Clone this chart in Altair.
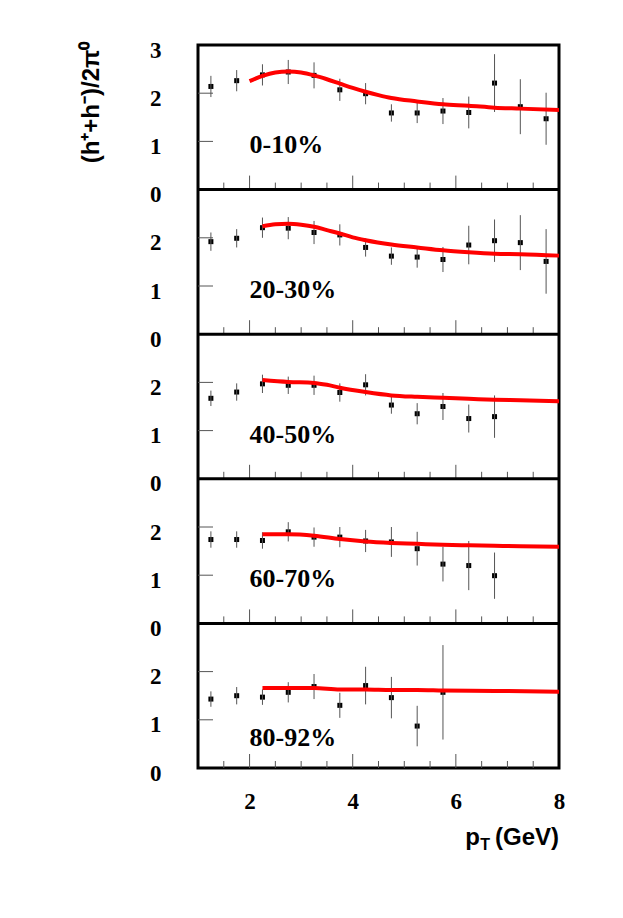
import altair as alt
import pandas as pd

# ---------------- data ----------------
PT = [1.25, 1.75, 2.25, 2.75, 3.25, 3.75, 4.25, 4.75, 5.25, 5.75, 6.25, 6.75, 7.25, 7.75]
LABELS = ["0-10%", "20-30%", "40-50%", "60-70%", "80-92%"]

VAL_0_10 = [2.14, 2.26, 2.38, 2.44, 2.37, 2.07, 1.99, 1.59, 1.59, 1.63, 1.60, 2.21, 1.72, 1.47]
ERR_0_10 = [0.22, 0.22, 0.22, 0.25, 0.27, 0.23, 0.22, 0.18, 0.21, 0.27, 0.33, 0.60, 0.57, 0.54]

VAL_20_30 = [1.92, 1.99, 2.21, 2.20, 2.11, 2.06, 1.80, 1.62, 1.60, 1.55, 1.85, 1.94, 1.90, 1.51]
ERR_20_30 = [0.19, 0.19, 0.21, 0.23, 0.24, 0.22, 0.19, 0.18, 0.22, 0.26, 0.40, 0.44, 0.57, 0.67]

VAL_40_50 = [1.67, 1.80, 1.97, 1.94, 1.94, 1.79, 1.95, 1.53, 1.35, 1.50, 1.25, 1.29]
ERR_40_50 = [0.16, 0.18, 0.19, 0.18, 0.20, 0.19, 0.22, 0.18, 0.22, 0.28, 0.29, 0.44]

VAL_60_70 = [1.74, 1.74, 1.72, 1.90, 1.79, 1.79, 1.71, 1.69, 1.55, 1.23, 1.20, 0.99]
ERR_60_70 = [0.17, 0.17, 0.17, 0.20, 0.20, 0.21, 0.23, 0.31, 0.35, 0.36, 0.51, 0.48]

VAL_80_92 = [1.43, 1.50, 1.47, 1.57, 1.69, 1.30, 1.71, 1.46, 0.87, 1.57]
ERR_80_92 = [0.16, 0.18, 0.16, 0.21, 0.26, 0.26, 0.39, 0.43, 0.42, 0.98]

CX_0_10 = [2.0, 2.25, 2.5, 2.75, 3.0, 3.25, 3.5, 3.75, 4.0, 4.25, 4.5, 4.75, 5.25, 5.75, 6.25, 6.75, 7.25, 8.0]
CY_0_10 = [2.25, 2.36, 2.43, 2.45, 2.43, 2.37, 2.29, 2.20, 2.11, 2.03, 1.96, 1.90, 1.83, 1.77, 1.74, 1.70, 1.68, 1.65]

CX_20_30 = [2.25, 2.5, 2.75, 3.0, 3.25, 3.5, 3.75, 4.0, 4.25, 4.75, 5.25, 5.75, 6.25, 6.75, 7.25, 8.0]
CY_20_30 = [2.24, 2.28, 2.29, 2.27, 2.23, 2.16, 2.09, 2.01, 1.95, 1.86, 1.80, 1.74, 1.70, 1.67, 1.66, 1.63]

CX_40_50 = [2.25, 2.75, 3.25, 3.5, 3.75, 4.25, 4.75, 5.25, 5.75, 6.25, 6.75, 7.25, 8.0]
CY_40_50 = [2.05, 2.01, 1.99, 1.95, 1.89, 1.80, 1.73, 1.70, 1.68, 1.66, 1.64, 1.63, 1.61]

CX_60_70 = [2.25, 2.75, 3.25, 3.75, 4.25, 4.75, 5.25, 5.75, 6.25, 6.75, 7.25, 8.0]
CY_60_70 = [1.85, 1.85, 1.82, 1.75, 1.70, 1.67, 1.65, 1.63, 1.62, 1.61, 1.60, 1.59]

CX_80_92 = [2.25, 3.25, 3.75, 4.25, 4.75, 5.25, 5.75, 6.75, 8.0]
CY_80_92 = [1.66, 1.66, 1.63, 1.63, 1.62, 1.62, 1.61, 1.60, 1.58]

X_TICKS = [2, 4, 6, 8]
X_MINOR = [1.5, 2.5, 3, 3.5, 4.5, 5, 5.5, 6.5, 7, 7.5]
X_MAJOR_IN = [2, 4, 6]
Y_TICKS_IN = [1, 2]

# ---------------- assemble tables ----------------
OFFSETS = [12, 9, 6, 3, 0]   # stacked panels, each spans 3 units
LABEL_Y = [0.75, 0.75, 0.75, 0.75, 0.46]
vals = [VAL_0_10, VAL_20_30, VAL_40_50, VAL_60_70, VAL_80_92]
errs = [ERR_0_10, ERR_20_30, ERR_40_50, ERR_60_70, ERR_80_92]
cxs = [CX_0_10, CX_20_30, CX_40_50, CX_60_70, CX_80_92]
cys = [CY_0_10, CY_20_30, CY_40_50, CY_60_70, CY_80_92]

pts, crv, lab = [], [], []
for i, off in enumerate(OFFSETS):
    for x, v, e in zip(PT, vals[i], errs[i]):
        pts.append({"x": x, "y": v + off, "lo": v - e + off, "hi": v + e + off})
    for x, y in zip(cxs[i], cys[i]):
        crv.append({"x": x, "y": y + off, "panel": LABELS[i]})
    lab.append({"x": 2.0, "y": LABEL_Y[i] + off, "t": LABELS[i]})

pts = pd.DataFrame(pts)
crv = pd.DataFrame(crv)
lab = pd.DataFrame(lab)

yt = pd.DataFrame([{"y": off + v} for off in OFFSETS for v in Y_TICKS_IN])
xmin = pd.DataFrame([{"x": t, "y": off} for off in OFFSETS for t in X_MINOR])
xmaj = pd.DataFrame([{"x": t, "y": off} for off in OFFSETS for t in X_MAJOR_IN])
seps = pd.DataFrame({"y": [3, 6, 9, 12]})

W, H = 361, 723

xscale = alt.Scale(domain=[1, 8], nice=False)
yscale = alt.Scale(domain=[0, 15], nice=False)

X = alt.X("x:Q", scale=xscale,
          axis=alt.Axis(values=X_TICKS, format="d", ticks=False, domain=False, grid=False,
                        labelFont="Liberation Serif", labelFontWeight="bold",
                        labelFontSize=23, labelColor="black", labelPadding=22,
                        labelFlush=False),
          title="")
Y = alt.Y("y:Q", scale=yscale,
          axis=alt.Axis(values=list(range(16)), ticks=False, domain=False, grid=False,
                        labelExpr="datum.value == 15 ? '3' : toString(datum.value % 3)",
                        labelFont="Liberation Serif", labelFontWeight="bold",
                        labelFontSize=23, labelColor="black", labelPadding=37,
                        labelBaseline="middle", labelOffset=5, labelFlush=False,
                        title="(h\u207a+h\u207b)/2\u03c0\u2070",
                        titleFont="Liberation Sans", titleFontWeight="bold",
                        titleFontSize=24, titleColor="black", titleAngle=270,
                        titleX=-100, titleY=57, titleAlign="center",
                        titleBaseline="alphabetic"))

curve = alt.Chart(crv).mark_line(color="#ff0000", strokeWidth=4, interpolate="monotone").encode(
    x=alt.X("x:Q", scale=xscale), y=alt.Y("y:Q", scale=yscale), detail="panel:N")

bars = alt.Chart(pts).mark_rule(color="#555555", strokeWidth=1).encode(
    x=alt.X("x:Q", scale=xscale), y=alt.Y("lo:Q", scale=yscale), y2="hi:Q")

dots = alt.Chart(pts).mark_square(size=25, color="black", opacity=1).encode(x=X, y=Y)

labels = alt.Chart(lab).mark_text(align="left", baseline="alphabetic", font="Liberation Serif",
                                  fontWeight="bold", fontSize=26, color="black").encode(
    x=alt.X("x:Q", scale=xscale), y=alt.Y("y:Q", scale=yscale), text="t:N")

ytick = alt.Chart(yt).mark_rule(color="#555555", strokeWidth=1).encode(
    x=alt.value(0), x2=alt.value(15), y=alt.Y("y:Q", scale=yscale))

xminor = alt.Chart(xmin).mark_rule(color="#555555", strokeWidth=1, y2Offset=-7).encode(
    x=alt.X("x:Q", scale=xscale), y=alt.Y("y:Q", scale=yscale), y2="y:Q")

xmajor = alt.Chart(xmaj).mark_rule(color="#555555", strokeWidth=1, y2Offset=-14).encode(
    x=alt.X("x:Q", scale=xscale), y=alt.Y("y:Q", scale=yscale), y2="y:Q")

sep = alt.Chart(seps).mark_rule(color="black", strokeWidth=3).encode(
    x=alt.value(0), x2=alt.value(W), y=alt.Y("y:Q", scale=yscale))

title_p = alt.Chart(pd.DataFrame({"t": ["p"]})).mark_text(
    align="right", baseline="alphabetic", font="Liberation Sans", fontWeight="bold",
    fontSize=24, color="black").encode(x=alt.value(W - 79), y=alt.value(H + 77), text="t:N")
title_T = alt.Chart(pd.DataFrame({"t": ["T"]})).mark_text(
    align="right", baseline="alphabetic", font="Liberation Sans", fontWeight="bold",
    fontSize=16, color="black").encode(x=alt.value(W - 69), y=alt.value(H + 82), text="t:N")
title_g = alt.Chart(pd.DataFrame({"t": ["(GeV)"]})).mark_text(
    align="right", baseline="alphabetic", font="Liberation Sans", fontWeight="bold",
    fontSize=24, color="black").encode(x=alt.value(W), y=alt.value(H + 77), text="t:N")

chart = alt.layer(dots, bars, curve, labels, ytick, xminor, xmajor, sep,
                  title_p, title_T, title_g).properties(
    width=W, height=H,
    autosize=alt.AutoSizeParams(type="none"),
    padding={"left": 190, "top": 37, "right": 55, "bottom": 100},
    background="white",
).configure_view(stroke="black", strokeWidth=3)

chart.save("out.html", embed_options={"renderer": "svg", "actions": False})
